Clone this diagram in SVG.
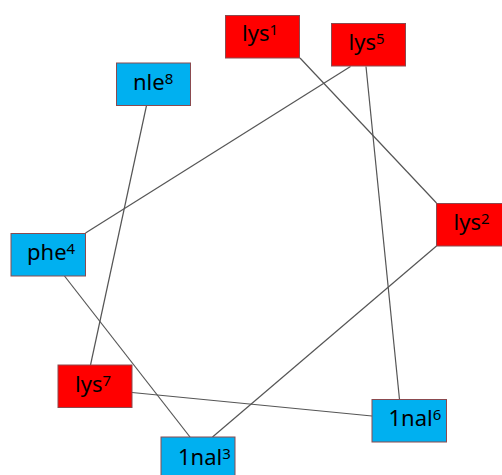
<svg xmlns="http://www.w3.org/2000/svg" width="502" height="475" viewBox="0 0 502 475">
<style>
.red{fill:#ff0000;stroke:#8b4a4f;stroke-width:1}
.blue{fill:#00b0f0;stroke:#8b4a4f;stroke-width:1}
.lbl{font-family:"Noto Sans","Open Sans",sans-serif;font-size:22px;fill:#000}
.sup{font-size:15px}
.edge{stroke:#555;stroke-width:1.2;fill:none}
</style>
<rect width="502" height="475" fill="#fff"/>
<g id="connectors">
<line class="edge" x1="300" y1="58" x2="436.5" y2="203"/>
<line class="edge" x1="350.5" y1="66.5" x2="85.5" y2="233"/>
<line class="edge" x1="366" y1="66.5" x2="399.5" y2="399.5"/>
<line class="edge" x1="146.5" y1="105.5" x2="90.5" y2="365"/>
<line class="edge" x1="64.5" y1="276" x2="190" y2="437"/>
<line class="edge" x1="132" y1="392.5" x2="372" y2="416"/>
<line class="edge" x1="436.5" y1="246" x2="212.5" y2="437"/>
</g>
<g id="lys1">
<rect class="red" x="225.5" y="15.5" width="74" height="42.5"/>
<text class="lbl" x="242" y="41">lys<tspan class="sup" dy="-6">1</tspan></text>
</g>
<g id="lys5">
<rect class="red" x="331.5" y="23.5" width="74" height="42.5"/>
<text class="lbl" x="348.5" y="50">lys<tspan class="sup" dy="-6">5</tspan></text>
</g>
<g id="nle8">
<rect class="blue" x="116.5" y="63" width="74" height="42.5"/>
<text class="lbl" x="133" y="89.5">nle<tspan class="sup" dy="-6">8</tspan></text>
</g>
<g id="lys2">
<rect class="red" x="436.5" y="203.5" width="74" height="42.5"/>
<text class="lbl" x="453.5" y="229.5">lys<tspan class="sup" dy="-6">2</tspan></text>
</g>
<g id="phe4">
<rect class="blue" x="11" y="233.5" width="74.5" height="42.5"/>
<text class="lbl" x="27" y="260">phe<tspan class="sup" dy="-6">4</tspan></text>
</g>
<g id="lys7">
<rect class="red" x="58" y="365" width="74" height="42.5"/>
<text class="lbl" x="75" y="392">lys<tspan class="sup" dy="-6">7</tspan></text>
</g>
<g id="1nal6">
<rect class="blue" x="372" y="399.5" width="74.5" height="42.5"/>
<text class="lbl" x="388.5" y="425.5">1nal<tspan class="sup" dy="-6">6</tspan></text>
</g>
<g id="1nal3">
<rect class="blue" x="161" y="437" width="74" height="42.5"/>
<text class="lbl" x="178" y="464.5">1nal<tspan class="sup" dy="-6">3</tspan></text>
</g>
</svg>
